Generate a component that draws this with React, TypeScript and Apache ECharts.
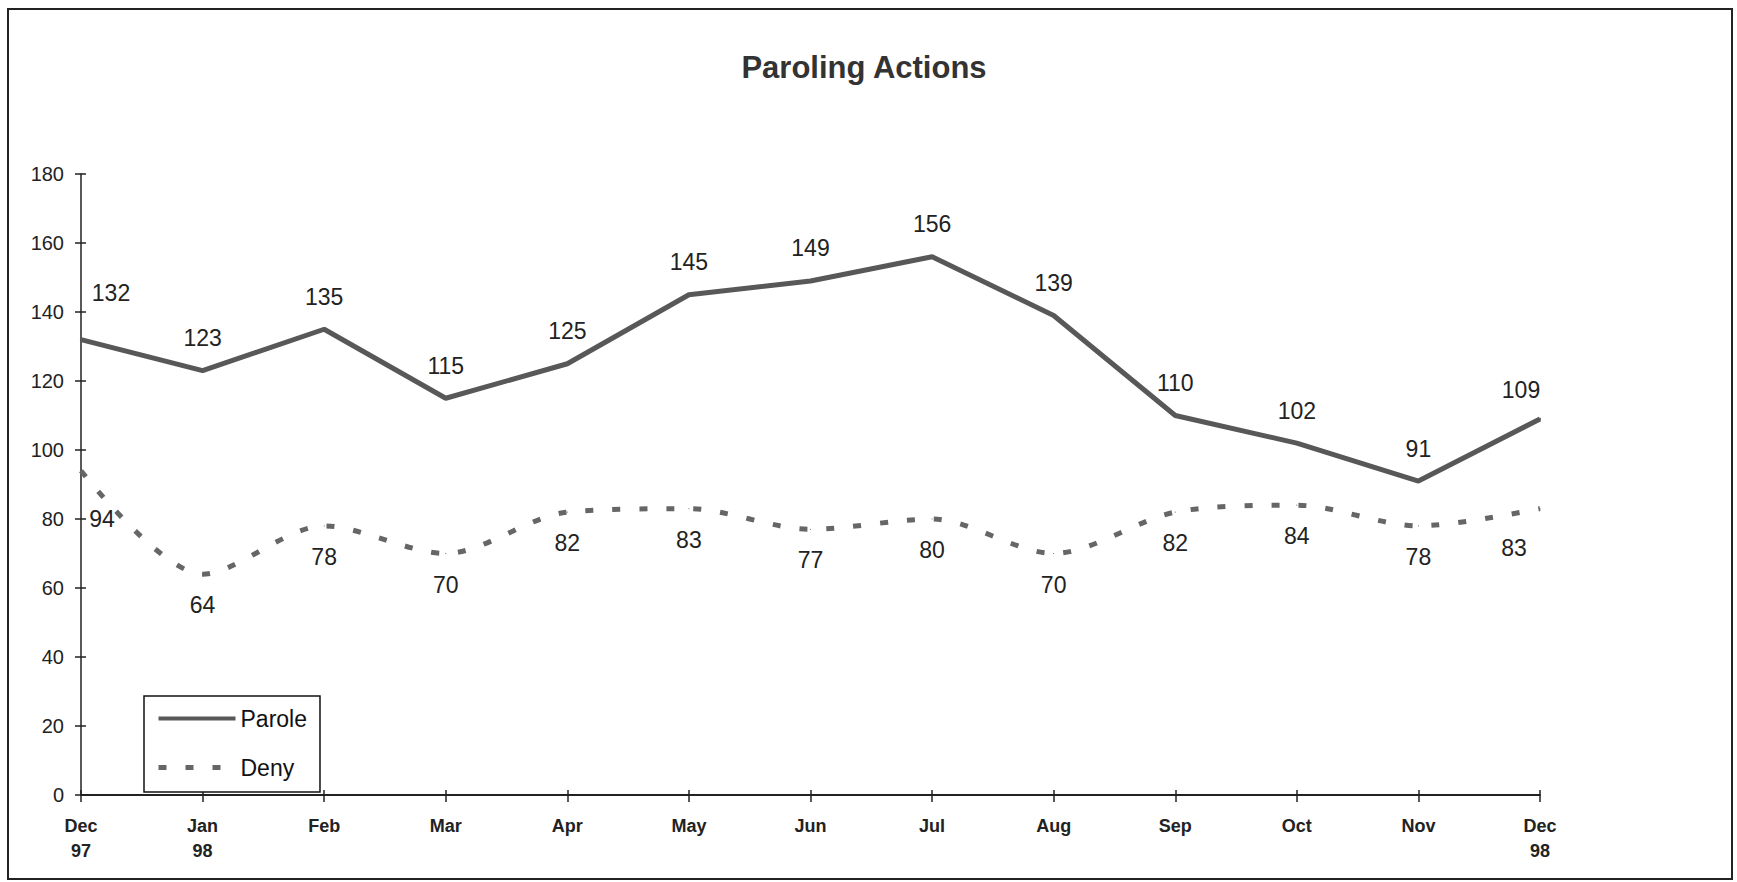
import React, { useEffect, useRef } from 'react';
import * as echarts from 'echarts';

const categories = ['Dec\n97', 'Jan\n98', 'Feb', 'Mar', 'Apr', 'May', 'Jun', 'Jul', 'Aug', 'Sep', 'Oct', 'Nov', 'Dec\n98'];
const paroleValues = [132, 123, 135, 115, 125, 145, 149, 156, 139, 110, 102, 91, 109];
const denyValues = [94, 64, 78, 70, 82, 83, 77, 80, 70, 82, 84, 78, 83];
const yMin = 0;
const yMax = 180;
const yInterval = 20;

const FONT = '"Liberation Sans", Arial, Helvetica, sans-serif';
const LINE_COLOR = '#585858';
const DENY_COLOR = '#666';
const TEXT_COLOR = '#222';
const DENY_DASH = [8, 19];

function withEdgeOffsets(values: number[], first: number[], last: number[]) {
  return values.map((v, i) => {
    if (i === 0) return { value: v, label: { offset: first } };
    if (i === values.length - 1) return { value: v, label: { offset: last } };
    return v;
  });
}

export default function App() {
  const ref = useRef<HTMLDivElement>(null);

  useEffect(() => {
    if (!ref.current) return;
    const chart = echarts.init(ref.current, null, { renderer: 'svg' });
    const option: any = {
      animation: false,
      backgroundColor: '#fff',
      title: {
        text: 'Paroling Actions',
        left: 864,
        top: 52,
        padding: 0,
        textAlign: 'center',
        textStyle: { fontFamily: FONT, fontSize: 31, fontWeight: 'bold', color: '#333' },
      },
      graphic: [
        {
          type: 'rect',
          silent: true,
          z: -1,
          shape: { x: 8, y: 9, width: 1724, height: 870 },
          style: { fill: 'none', stroke: '#222', lineWidth: 2 },
        },
      ],
      legend: {
        orient: 'vertical',
        left: 144,
        top: 696,
        padding: [11, 13, 13, 12],
        itemGap: 26,
        itemWidth: 77,
        itemHeight: 6,
        backgroundColor: '#fff',
        borderColor: '#111',
        borderWidth: 1.5,
        itemStyle: { opacity: 0 },
        textStyle: { fontFamily: FONT, fontSize: 23, color: '#111', lineHeight: 23 },
        data: [
          { name: 'Parole', lineStyle: { width: 4, color: LINE_COLOR } },
          { name: 'Deny', lineStyle: { width: 5, color: DENY_COLOR, type: DENY_DASH, cap: 'butt' } },
        ],
      },
      grid: { left: 81, right: 197, top: 174, bottom: 87, containLabel: false },
      xAxis: [
        {
          type: 'category',
          position: 'bottom',
          boundaryGap: false,
          data: categories,
          axisLine: { show: true, lineStyle: { color: '#222', width: 2 } },
          axisTick: { show: true, inside: false, length: 7, lineStyle: { color: '#222', width: 1.5 } },
          axisLabel: {
            interval: 0,
            margin: 18,
            fontFamily: FONT,
            fontSize: 18,
            fontWeight: 'bold',
            lineHeight: 25,
            color: TEXT_COLOR,
          },
          splitLine: { show: false },
        },
        {
          type: 'category',
          position: 'bottom',
          boundaryGap: false,
          data: categories,
          axisLine: { show: false },
          axisTick: { show: true, inside: true, length: 5, lineStyle: { color: '#222', width: 1.5 } },
          axisLabel: { show: false },
          splitLine: { show: false },
        },
      ],
      yAxis: [
        {
          type: 'value',
          position: 'left',
          min: yMin,
          max: yMax,
          interval: yInterval,
          axisLine: { show: true, lineStyle: { color: '#222', width: 1.5 } },
          axisTick: { show: true, inside: false, length: 6, lineStyle: { color: '#222', width: 1.5 } },
          axisLabel: { margin: 17, fontFamily: FONT, fontSize: 20, color: TEXT_COLOR },
          splitLine: { show: false },
        },
        {
          type: 'value',
          position: 'left',
          min: yMin,
          max: yMax,
          interval: yInterval,
          axisLine: { show: false },
          axisTick: { show: true, inside: true, length: 5, lineStyle: { color: '#222', width: 1.5 } },
          axisLabel: { show: false },
          splitLine: { show: false },
        },
      ],
      series: [
        {
          name: 'Parole',
          type: 'line',
          xAxisIndex: 0,
          yAxisIndex: 0,
          data: withEdgeOffsets(paroleValues, [30, -14], [-19, 4]),
          symbol: 'circle',
          symbolSize: 2,
          itemStyle: { color: LINE_COLOR },
          lineStyle: { color: LINE_COLOR, width: 5 },
          label: {
            show: true,
            position: 'top',
            distance: 20,
            fontFamily: FONT,
            fontSize: 23,
            lineHeight: 23,
            color: TEXT_COLOR,
          },
        },
        {
          name: 'Deny',
          type: 'line',
          xAxisIndex: 0,
          yAxisIndex: 0,
          smooth: 0.3,
          data: withEdgeOffsets(denyValues, [21, 17], [-26, 8]),
          symbol: 'circle',
          symbolSize: 1,
          itemStyle: { color: DENY_COLOR },
          lineStyle: { color: DENY_COLOR, width: 5, type: DENY_DASH, cap: 'butt' },
          label: {
            show: true,
            position: 'bottom',
            distance: 19,
            fontFamily: FONT,
            fontSize: 23,
            lineHeight: 23,
            color: TEXT_COLOR,
          },
        },
      ],
    };
    chart.setOption(option);
    return () => chart.dispose();
  }, []);

  return (
    <div
      ref={ref}
      style={{ position: 'absolute', left: 0, top: 0, width: 1737, height: 882, background: '#fff' }}
    />
  );
}
